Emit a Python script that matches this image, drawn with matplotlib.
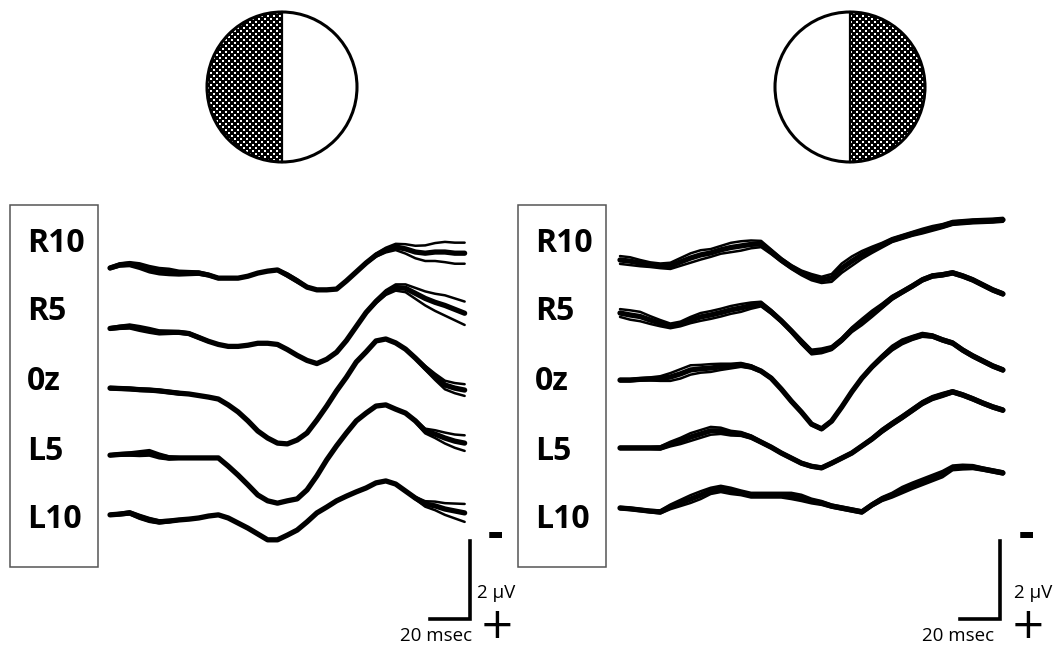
import matplotlib
matplotlib.use("Agg")
import matplotlib.pyplot as plt
import numpy as np
from matplotlib.patches import Circle, Wedge, Rectangle

# channel names, time grid (msec) and spacing between channels (uV)
channels = ["R10", "R5", "0z", "L5", "L10"]
t_left = np.arange(0, 181, 5)
t_right = np.arange(0, 191, 5)
offset_uv = 1.6

# left half-field stimulation, amplitude in uV (negative plotted up)
left_r10 = [0, -0.08, -0.10, -0.05, 0.03, 0.08, 0.10, 0.13, 0.13, 0.13, 0.18, 0.26, 0.26, 0.26, 0.21, 0.13, 0.08, 0.05, 0.18,
            0.33, 0.49, 0.56, 0.56, 0.54, 0.33, 0.10, -0.13, -0.33, -0.46, -0.54, -0.49, -0.41, -0.38, -0.41, -0.41, -0.38, -0.38]
left_r5 = [-0.05, -0.08, -0.10, -0.05, 0, 0.05, 0.05, 0.05, 0.08, 0.18, 0.28, 0.36, 0.41, 0.41, 0.38, 0.33, 0.33, 0.36, 0.49,
           0.64, 0.77, 0.85, 0.74, 0.56, 0.26, -0.10, -0.46, -0.74, -0.97, -1.10, -1.08, -0.95, -0.82, -0.72, -0.64, -0.54, -0.44]
left_oz = [-0.12, -0.11, -0.10, -0.08, -0.07, -0.05, -0.02, 0.01, 0.03, 0.07, 0.11, 0.16, 0.31, 0.49, 0.72, 0.98, 1.16, 1.29, 1.31,
           1.21, 1.03, 0.70, 0.34, -0.05, -0.40, -0.79, -1.05, -1.33, -1.38, -1.28, -1.12, -0.89, -0.64, -0.41, -0.20, -0.12, -0.07]
left_l5 = [0, -0.02, -0.03, -0.04, -0.06, 0.02, 0.07, 0.07, 0.07, 0.07, 0.07, 0.07, 0.28, 0.51, 0.76, 1.02, 1.17, 1.23, 1.17,
           1.12, 0.89, 0.53, 0.12, -0.24, -0.57, -0.88, -1.08, -1.26, -1.29, -1.18, -1.08, -0.88, -0.62, -0.54, -0.44, -0.36, -0.31]
left_l10 = [-0.07, -0.09, -0.12, -0.02, 0.06, 0.11, 0.09, 0.06, 0.04, 0.01, -0.04, -0.07, 0.01, 0.14, 0.27, 0.42, 0.57, 0.57, 0.45,
            0.32, 0.11, -0.12, -0.27, -0.43, -0.55, -0.66, -0.76, -0.89, -0.94, -0.86, -0.68, -0.50, -0.35, -0.30, -0.22, -0.17, -0.12]

# spread of the superimposed sweeps (uV)
left_r10_sp = [0.03, 0.04, 0.05, 0.07, 0.08, 0.08, 0.08, 0.06, 0.05, 0.04, 0.03, 0.02, 0, 0, 0, 0, 0, 0.02, 0.04,
               0.04, 0.02, 0, 0, 0, 0, 0, 0.02, 0.04, 0.06, 0.08, 0.12, 0.16, 0.20, 0.23, 0.26, 0.27, 0.27]
left_r5_sp = [0.03, 0.04, 0.05, 0.06, 0.06, 0.05, 0.04, 0.03, 0.03, 0.03, 0.02, 0, 0, 0, 0, 0, 0, 0, 0,
              0, 0, 0, 0, 0, 0, 0, 0.02, 0.04, 0.06, 0.08, 0.10, 0.14, 0.18, 0.22, 0.26, 0.28, 0.30]
left_oz_sp = [0.03, 0.03, 0.03, 0.03, 0.03, 0.03, 0.03, 0.03, 0, 0, 0, 0, 0, 0, 0, 0, 0, 0, 0,
              0, 0, 0, 0, 0, 0, 0, 0, 0, 0, 0, 0, 0.03, 0.05, 0.08, 0.11, 0.13, 0.15]
left_l5_sp = [0.02, 0.03, 0.04, 0.06, 0.07, 0.06, 0.04, 0.02, 0, 0, 0, 0, 0, 0, 0, 0, 0, 0, 0,
              0, 0, 0, 0, 0, 0, 0, 0, 0, 0, 0, 0, 0.03, 0.06, 0.10, 0.14, 0.17, 0.20]
left_l10_sp = [0.02, 0.03, 0.04, 0.05, 0.05, 0.04, 0.03, 0.02, 0, 0, 0, 0, 0, 0, 0, 0, 0, 0, 0,
               0, 0, 0, 0, 0, 0, 0, 0, 0, 0, 0, 0, 0.03, 0.07, 0.11, 0.15, 0.19, 0.23]

# right half-field stimulation
right_r10 = [0, 0.03, 0.08, 0.12, 0.15, 0.15, 0.05, -0.05, -0.13, -0.18, -0.26, -0.32, -0.36, -0.40, -0.41, -0.21, 0, 0.18, 0.33, 0.44,
             0.51, 0.46, 0.21, 0.03, -0.13, -0.26, -0.38, -0.51, -0.59, -0.67, -0.74, -0.81, -0.87, -0.95, -0.97, -0.99, -1.00, -1.01, -1.03]
right_r5 = [-0.24, -0.19, -0.15, -0.06, 0.02, 0.09, 0.04, -0.06, -0.14, -0.19, -0.25, -0.32, -0.37, -0.43, -0.47, -0.27, -0.04, 0.22, 0.50, 0.76,
            0.73, 0.66, 0.45, 0.19, -0.01, -0.22, -0.42, -0.63, -0.78, -0.93, -1.09, -1.19, -1.22, -1.27, -1.19, -1.09, -0.96, -0.83, -0.73]
right_oz = [-0.12, -0.12, -0.14, -0.15, -0.16, -0.20, -0.28, -0.38, -0.41, -0.43, -0.46, -0.48, -0.51, -0.46, -0.35, -0.17, 0.11, 0.42, 0.70, 1.01,
            1.13, 0.93, 0.57, 0.18, -0.17, -0.46, -0.71, -0.94, -1.10, -1.20, -1.28, -1.25, -1.15, -1.07, -0.89, -0.74, -0.61, -0.48, -0.38]
right_l5 = [0.02, 0.02, 0.02, 0.02, 0.02, -0.08, -0.16, -0.26, -0.34, -0.42, -0.42, -0.36, -0.34, -0.26, -0.13, 0, 0.15, 0.28, 0.41, 0.49,
            0.53, 0.41, 0.28, 0.15, -0.03, -0.21, -0.42, -0.60, -0.77, -0.95, -1.13, -1.26, -1.34, -1.42, -1.34, -1.24, -1.13, -1.03, -0.95]
right_l10 = [-0.04, -0.02, 0.01, 0.04, 0.06, -0.07, -0.17, -0.27, -0.37, -0.48, -0.53, -0.48, -0.43, -0.37, -0.37, -0.37, -0.37, -0.35, -0.30, -0.22,
             -0.17, -0.09, -0.04, 0.01, 0.06, -0.12, -0.27, -0.37, -0.50, -0.61, -0.71, -0.81, -0.91, -1.07, -1.09, -1.09, -1.04, -0.99, -0.94]

right_r10_sp = [0.10, 0.10, 0.08, 0.06, 0.06, 0.08, 0.10, 0.12, 0.12, 0.10, 0.10, 0.12, 0.12, 0.10, 0.08, 0.06, 0.05, 0.05, 0.06, 0.08,
                0.08, 0.10, 0.12, 0.12, 0.10, 0.08, 0.06, 0.05, 0.05, 0.05, 0.06, 0.06, 0.05, 0.05, 0.05, 0.05, 0.05, 0.05, 0.05]
right_r5_sp = [0.10, 0.12, 0.12, 0.10, 0.08, 0.06, 0.06, 0.08, 0.10, 0.10, 0.10, 0.10, 0.10, 0.08, 0.06, 0.05, 0.04, 0.04, 0.06, 0.06,
               0.06, 0.05, 0.05, 0.06, 0.08, 0.08, 0.06, 0.05, 0.04, 0.04, 0.04, 0.04, 0.04, 0.04, 0.04, 0.04, 0.04, 0.04, 0.04]
right_oz_sp = [0.03, 0.03, 0.03, 0.04, 0.06, 0.10, 0.12, 0.12, 0.10, 0.10, 0.08, 0.06, 0.05, 0.04, 0.03, 0.03, 0.03, 0.03, 0.03, 0.03,
               0.03, 0.03, 0.03, 0.03, 0.03, 0.04, 0.05, 0.06, 0.06, 0.05, 0.05, 0.04, 0.04, 0.04, 0.04, 0.04, 0.04, 0.04, 0.04]
right_l5_sp = [0.03, 0.03, 0.03, 0.03, 0.04, 0.06, 0.08, 0.10, 0.10, 0.10, 0.08, 0.06, 0.05, 0.04, 0.03, 0.03, 0.03, 0.03, 0.03, 0.03,
               0.03, 0.03, 0.03, 0.03, 0.03, 0.04, 0.05, 0.05, 0.05, 0.05, 0.05, 0.05, 0.05, 0.04, 0.04, 0.04, 0.04, 0.04, 0.04]
right_l10_sp = [0.03, 0.03, 0.03, 0.03, 0.04, 0.06, 0.08, 0.10, 0.10, 0.08, 0.08, 0.08, 0.06, 0.06, 0.06, 0.06, 0.06, 0.08, 0.08, 0.06,
                0.05, 0.04, 0.04, 0.04, 0.04, 0.04, 0.05, 0.06, 0.08, 0.08, 0.08, 0.08, 0.08, 0.06, 0.06, 0.05, 0.04, 0.04, 0.04]

left_traces = [left_r10, left_r5, left_oz, left_l5, left_l10]
left_spread = [left_r10_sp, left_r5_sp, left_oz_sp, left_l5_sp, left_l10_sp]
right_traces = [right_r10, right_r5, right_oz, right_l5, right_l10]
right_spread = [right_r10_sp, right_r5_sp, right_oz_sp, right_l5_sp, right_l10_sp]

W, H = 1054, 648
fig = plt.figure(figsize=(W / 100, H / 100), dpi=100)

# background axes in pixel units for the stimulus circles and label boxes
bg = fig.add_axes([0, 0, 1, 1])
bg.set_xlim(0, W)
bg.set_ylim(H, 0)
bg.axis("off")

# checkerboard texture: 3 px checks, white checks slightly smaller
ii, jj = np.mgrid[0:150, 0:75]
white = (((ii // 3 + jj // 3) % 2) == 1) & (ii % 3 != 2) & (jj % 3 != 2)
checker = white.astype(float)


def stim_circle(cx, cy, r, side):
    if side == "left":
        wedge = Wedge((cx, cy), r, 90, 270, transform=bg.transData)
        ext = (cx - r, cx, cy + r, cy - r)
    else:
        wedge = Wedge((cx, cy), r, -90, 90, transform=bg.transData)
        ext = (cx, cx + r, cy + r, cy - r)
    img = bg.imshow(checker, cmap="gray", extent=ext, interpolation="nearest",
                    aspect="auto", origin="upper", vmin=0, vmax=1)
    img.set_clip_path(wedge)
    bg.add_patch(Circle((cx, cy), r, fill=False, ec="black", lw=2.2, zorder=3))
    bg.plot([cx, cx], [cy - r, cy + r], color="black", lw=1.6, zorder=3)


stim_circle(282, 87, 75, "left")
stim_circle(850, 87, 75, "right")

label_y = [244, 311, 381, 451, 520]
for bx in [10, 518]:
    bg.add_patch(Rectangle((bx, 205), 88, 362, fill=False, ec="#555555", lw=1.1))
    for name, ly in zip(channels, label_y):
        bg.text(bx + 17, ly, name, fontsize=23, fontweight="bold", family="Open Sans",
                ha="left", va="center")
bg.set_xlim(0, W)
bg.set_ylim(H, 0)


def draw_panel(rect, xlim, ylim, t, traces, spreads, bar_t, bar_top, texts):
    ax = fig.add_axes(rect)
    ax.set_xlim(*xlim)
    ax.set_ylim(*ylim)
    ax.axis("off")
    ax.patch.set_alpha(0)
    for k, (vals, sp) in enumerate(zip(traces, spreads)):
        v = np.array(vals) + k * offset_uv
        s = np.array(sp)
        ax.plot(t, v, color="black", lw=3.8, solid_capstyle="round", solid_joinstyle="round")
        ax.plot(t, v - s, color="black", lw=1.8, solid_capstyle="round", solid_joinstyle="round")
        ax.plot(t, v + s, color="black", lw=1.8, solid_capstyle="round", solid_joinstyle="round")
    # scale bar: 20 msec x 2 uV
    ax.plot([bar_t, bar_t, bar_t - 20], [bar_top, bar_top + 2, bar_top + 2],
            color="black", lw=2.6, solid_joinstyle="miter", clip_on=False)
    (uv_x, uv_y), (ms_x, ms_y), (pm_x, minus_y, plus_y) = texts
    ax.text(uv_x, uv_y, "2 µV", fontsize=13.5, family="Open Sans", ha="left", va="center")
    ax.text(ms_x, ms_y, "20 msec", fontsize=13.5, family="Open Sans", ha="right", va="center")
    ax.text(pm_x, minus_y, "-", fontsize=30, fontweight="bold", family="DejaVu Sans",
            ha="center", va="center")
    ax.text(pm_x, plus_y, "$+$", fontsize=30, ha="center", va="center")


draw_panel([100 / W, 0, 420 / W, 448 / H], (-5.08, 208.1), (9.744, -1.744),
           t_left, left_traces, left_spread, 182.5, 7.0,
           ((186.5, 8.33), (184.0, 9.44), (195.5, 6.85, 9.18)))
draw_panel([610 / W, 0, 444 / W, 448 / H], (-4.96, 215.3), (9.949, -1.538),
           t_right, right_traces, right_spread, 188.5, 7.2,
           ((195.4, 8.54), (185.5, 9.64), (201.5, 7.05, 9.38)))

fig.savefig("out.png", dpi=100)
